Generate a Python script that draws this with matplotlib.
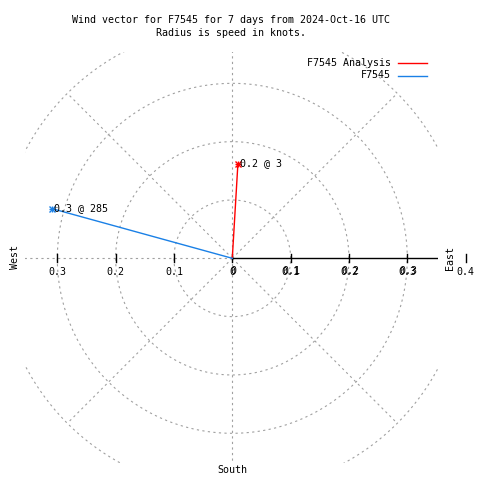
import numpy as np
import matplotlib
matplotlib.use("Agg")
import matplotlib.pyplot as plt

# ---- data ----
series_names = ["F7545 Analysis", "F7545"]
series_colors = ["#ff0000", "#1a80e6"]
speeds = [0.162, 0.321]          # knots
directions = [3.4, 285.4]        # degrees clockwise from north
grid_radii = [0.1, 0.2, 0.3, 0.4]
spoke_angles = [0, 45, 90, 135, 180, 225, 270, 315]
tick_values = [0.1, 0.2, 0.3]
title_lines = ["Wind vector for F7545 for 7 days from 2024-Oct-16 UTC",
               "Radius is speed in knots."]

W = H = 480
fig = plt.figure(figsize=(4.8, 4.8), dpi=100)
FONT = "DejaVu Sans Mono"
FS = 7.2

# axes geometry (pixels)
left_px, right_px, top_px, bot_px = 25, 438, 52, 463
ax = fig.add_axes([left_px / W, (H - bot_px) / H, (right_px - left_px) / W, (bot_px - top_px) / H])
ax.set_xlim(-0.3554, 0.3527)
ax.set_ylim(-0.3509, 0.3537)
ax.axis("off")

gray = "#a0a0a0"
dash = (0, (2, 3))
th = np.linspace(0, 2 * np.pi, 721)
for r in grid_radii:
    ax.plot(r * np.cos(th), r * np.sin(th), color=gray, lw=0.8, linestyle=dash)
rmax = max(grid_radii)
for a in spoke_angles:
    if a == 0:
        continue
    t = np.deg2rad(a)
    ax.plot([0, rmax * np.cos(t)], [0, rmax * np.sin(t)], color=gray, lw=0.8, linestyle=dash)

# black east axis
ax.plot([0, 0.3527], [0, 0], color="black", lw=1.0, solid_capstyle="butt")
tk = 0.007
for v in [-x for x in tick_values] + [0] + tick_values + [0.4]:
    ax.plot([v, v], [-tk, tk], color="black", lw=1.0, clip_on=False)

# tick labels
ly = -0.024
for v in tick_values:
    ax.text(-v, ly, f"{v:g}", ha="center", va="center", family=FONT, fontsize=FS)
for v in [0] + tick_values:
    ax.text(v, ly, f"{v:g}", ha="center", va="center", family=FONT, fontsize=FS)
    ax.text(v + 0.0017, ly + 0.0017, f"{v:g}", ha="center", va="center", family=FONT, fontsize=FS)
ax.text(0.4, ly, "0.4", ha="center", va="center", family=FONT, fontsize=FS, clip_on=False)

# vectors
for name, s, d, c in zip(series_names, speeds, directions, series_colors):
    t = np.deg2rad(d)
    x, y = s * np.sin(t), s * np.cos(t)
    ax.plot([0, x], [0, y], color=c, lw=1.0)
    ax.plot([x], [y], marker="+", color=c, ms=5, mew=1.0)
    ax.plot([x], [y], marker="x", color=c, ms=4, mew=1.0)
    ax.text(x + 0.003, y + 0.001, f"{s:.1f} @ {d:.0f}", ha="left", va="center",
            family=FONT, fontsize=FS)

# compass labels
fig.text(15 / W, 1 - 257 / H, "West", rotation=90, ha="center", va="center", family=FONT, fontsize=FS)
fig.text(450 / W, 1 - 258 / H, "East", rotation=90, ha="center", va="center", family=FONT, fontsize=FS)
fig.text(232 / W, 1 - 470 / H, "South", ha="center", va="center", family=FONT, fontsize=FS)

# title
fig.text(231 / W, 1 - 20 / H, title_lines[0], ha="center", va="center", family=FONT, fontsize=FS)
fig.text(231 / W, 1 - 33 / H, title_lines[1], ha="center", va="center", family=FONT, fontsize=FS)

# legend
for i, (name, c) in enumerate(zip(series_names, series_colors)):
    yy = 1 - (63 + 12.5 * i) / H
    fig.text(391 / W, yy, name, ha="right", va="center", family=FONT, fontsize=FS)
    fig.add_artist(plt.Line2D([398 / W, 427 / W], [yy, yy], color=c, lw=1.0, transform=fig.transFigure))

fig.savefig("out.png", dpi=100)
